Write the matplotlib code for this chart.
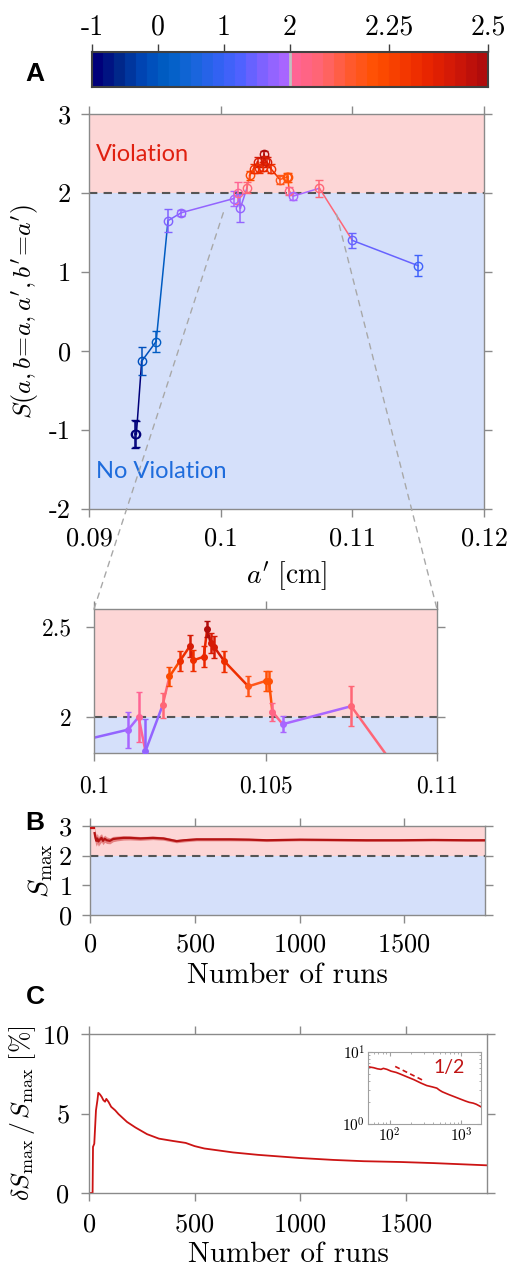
import numpy as np
import matplotlib
matplotlib.use("Agg")
import matplotlib.pyplot as plt
from matplotlib.colors import LinearSegmentedColormap, ListedColormap, TwoSlopeNorm
from matplotlib.patches import ConnectionPatch
from matplotlib.ticker import NullFormatter

plt.rcParams["font.family"] = "cmr10"
plt.rcParams["mathtext.fontset"] = "cm"
plt.rcParams["axes.unicode_minus"] = False
plt.rcParams["axes.formatter.use_mathtext"] = True

# ── Daten: Panel A (S gegen a') ──────────────────────────────────────────────
a_prime = [0.0935, 0.0936, 0.0940, 0.0951, 0.0960, 0.0970, 0.1010, 0.1013,
           0.1015, 0.1020, 0.1022, 0.1025, 0.1028, 0.1029, 0.1032, 0.1033,
           0.1034, 0.1035, 0.1038, 0.1045, 0.1050, 0.1051, 0.1052, 0.1055,
           0.1075, 0.1100, 0.1150]
s_val = [-1.05, -1.05, -0.13, 0.12, 1.65, 1.75, 1.93, 2.00,
         1.81, 2.065, 2.225, 2.31, 2.395, 2.315, 2.335, 2.49,
         2.41, 2.39, 2.31, 2.17, 2.20, 2.20, 2.03, 1.96,
         2.06, 1.40, 1.08]
s_err = [0.18, 0.17, 0.18, 0.13, 0.145, 0.04, 0.10, 0.14,
         0.18, 0.07, 0.055, 0.055, 0.06, 0.057, 0.058, 0.043,
         0.055, 0.06, 0.058, 0.055, 0.055, 0.055, 0.05, 0.045,
         0.11, 0.10, 0.135]

# ── Daten: Panel B (S_max gegen Anzahl Runs) ─────────────────────────────────
b_first_runs = [1, 20]
b_first_val = [2.92, 2.92]
b_runs = [22, 26, 30, 35, 40, 48, 55, 62, 70, 80, 95, 110, 130, 160, 190,
          240, 300, 350, 413, 450, 509, 600, 668, 760, 843, 1002, 1161,
          1320, 1479, 1638, 1800, 1885]
b_mean = [2.76, 2.60, 2.50, 2.58, 2.48, 2.55, 2.60, 2.50, 2.57, 2.52, 2.50,
          2.56, 2.58, 2.60, 2.60, 2.58, 2.60, 2.58, 2.49, 2.52, 2.55, 2.55,
          2.55, 2.54, 2.52, 2.54, 2.53, 2.52, 2.52, 2.53, 2.52, 2.52]
b_err = [0.20, 0.20, 0.18, 0.17, 0.16, 0.15, 0.14, 0.13, 0.12, 0.11, 0.10,
         0.09, 0.08, 0.075, 0.07, 0.065, 0.06, 0.06, 0.055, 0.055, 0.05,
         0.05, 0.05, 0.045, 0.045, 0.04, 0.04, 0.04, 0.035, 0.035, 0.035,
         0.035]

# ── Daten: Panel C (relativer Fehler in %) ───────────────────────────────────
c_runs = [1, 17, 19, 25, 33, 40, 44, 52, 60, 68, 76, 82, 92, 105, 124, 140,
          180, 220, 275, 331, 394, 458, 500, 546, 683, 800, 1000, 1158, 1300,
          1475, 1633, 1886]
c_rel = [0, 0, 2.9, 3.1, 5.2, 5.84, 6.3, 6.2, 6.05, 5.84, 5.74, 5.92, 5.74,
         5.42, 5.2, 4.96, 4.47, 4.12, 3.7, 3.42, 3.28, 3.15, 2.95, 2.8, 2.55,
         2.4, 2.2, 2.08, 2.0, 1.95, 1.88, 1.74]
ref_runs = [120, 300]
ref_rel = [6.3, 4.0]

cbar_ticks = [-1, 0, 1, 2, 2.25, 2.5]
cbar_labels = ["-1", "0", "1", "2", "2.25", "2.5"]

# ── Farbskala: blau (S<2) und rot (S>=2) ─────────────────────────────────────
blau = LinearSegmentedColormap.from_list(
    "blau", ["#00007A", "#002A8C", "#0048B8", "#0060C4", "#1466D8",
             "#2E62F0", "#4A62FF", "#7C62FF", "#A866FF"])
rot = LinearSegmentedColormap.from_list(
    "rot", ["#FF6494", "#FF6670", "#FF5A30", "#FF5000", "#F53A00",
            "#E82400", "#D01808", "#B00C0C"])
K = 18
cmap = ListedColormap(np.vstack([blau(np.linspace(0, 1, K)),
                                 rot(np.linspace(0, 1, K))]))
norm = TwoSlopeNorm(vmin=-1, vcenter=2, vmax=2.5)

ROSA = "#FDD6D6"
HELLBLAU = "#D5E0FA"
SPINE = "#8a8a8a"

W, H = 513, 1264
fig = plt.figure(figsize=(W / 100, H / 100), dpi=100)


def box(l, t, r, b):
    return [l / W, 1 - b / H, (r - l) / W, (b - t) / H]


def matlab_stil(ax, ls=19, pad=4):
    for sp in ax.spines.values():
        sp.set_color(SPINE)
        sp.set_linewidth(1.0)
    ax.tick_params(direction="out", top=True, right=True, length=6,
                   width=1.0, color=SPINE, labelsize=ls, pad=pad)


def hintergrund(ax):
    ax.axhspan(2, 100, color=ROSA, zorder=0, lw=0)
    ax.axhspan(-100, 2, color=HELLBLAU, zorder=0, lw=0)
    ax.axhline(2, color="#555555", ls=(0, (4, 3)), lw=1.5, zorder=1)


def daten_zeichnen(ax, offen, ms, lw, cs):
    for i in range(len(a_prime) - 1):
        ax.plot(a_prime[i:i + 2], s_val[i:i + 2],
                color=cmap(norm(s_val[i])), lw=lw, zorder=2)
    for xi, yi, ei in zip(a_prime, s_val, s_err):
        c = cmap(norm(yi))
        ax.errorbar(xi, yi, yerr=ei, fmt="o", ms=ms,
                    mfc="none" if offen else c, mec=c, ecolor=c,
                    elinewidth=lw, capsize=cs, capthick=lw, mew=1.0, zorder=3)


# ── Farbbalken ───────────────────────────────────────────────────────────────
cax = fig.add_axes(box(92, 52, 488, 87))
cax.imshow(np.linspace(0, 1, 720)[None, :], cmap=cmap, aspect="auto",
           extent=[0, 1, 0, 1])
cax.axvline(0.5, color="#C0C0C0", lw=2)
cax.set_xlim(0, 1)
cax.set_yticks([])
cax.xaxis.tick_top()
cax.set_xticks([norm(v) for v in cbar_ticks])
cax.set_xticklabels(cbar_labels)
cax.tick_params(direction="out", length=6, width=1.0, color="#404040",
                labelsize=20, pad=2)
for sp in cax.spines.values():
    sp.set_color("#404040")
    sp.set_linewidth(1.5)

# ── Panel A ──────────────────────────────────────────────────────────────────
axA = fig.add_axes(box(89, 114, 484, 509))
hintergrund(axA)
daten_zeichnen(axA, offen=True, ms=6, lw=1.1, cs=3)
axA.set_xlim(0.09, 0.12)
axA.set_ylim(-2, 3)
axA.set_xticks([0.09, 0.1, 0.11, 0.12])
axA.set_xticklabels(["0.09", "0.1", "0.11", "0.12"])
axA.set_yticks([-2, -1, 0, 1, 2, 3])
axA.set_yticklabels(["-2", "-1", "0", "1", "2", "3"])
matlab_stil(axA, pad=7)
axA.set_xlabel(r"$a'\ [\mathrm{cm}]$", fontsize=20, labelpad=6)
axA.set_ylabel(r"$S(a,b\!=\!a,a',b'\!=\!a')$", fontsize=18.5, labelpad=6)
axA.text(0.0905, 2.49, "Violation", color="#E02010", fontsize=17,
         family="Lato", va="center", ha="left")
axA.text(0.0905, -1.52, "No Violation", color="#1E6CDC", fontsize=17,
         family="Lato", va="center", ha="left")

# ── Vergrößerung ─────────────────────────────────────────────────────────────
axZ = fig.add_axes(box(94, 609, 437, 753))
hintergrund(axZ)
daten_zeichnen(axZ, offen=False, ms=4, lw=1.8, cs=2.5)
axZ.set_xlim(0.1, 0.11)
axZ.set_ylim(1.8, 2.6)
axZ.set_xticks([0.1, 0.105, 0.11])
axZ.set_xticklabels(["0.1", "0.105", "0.11"])
axZ.set_yticks([2, 2.5])
axZ.set_yticklabels(["2", "2.5"])
matlab_stil(axZ, ls=17, pad=10)

for xyA, xyB in [((0.1002, 1.75), (0, 1)), ((0.1088, 1.73), (1, 1))]:
    con = ConnectionPatch(xyA=xyA, coordsA=axA.transData, xyB=xyB,
                          coordsB=axZ.transAxes, color="#A8A8A8", lw=1.0,
                          ls=(0, (4, 4)), zorder=5)
    fig.add_artist(con)

# ── Panel B ──────────────────────────────────────────────────────────────────
axB = fig.add_axes(box(90, 826, 485, 915))
hintergrund(axB)
bm = np.array(b_mean)
be = np.array(b_err)
axB.fill_between(b_runs, bm - be, bm + be, color="#C81E1E", alpha=0.45,
                 lw=0, zorder=2)
axB.plot(b_runs, b_mean, color="#B41414", lw=1.6, zorder=3)
axB.plot(b_first_runs, b_first_val, color="#C81414", lw=1.6, zorder=3)
axB.set_xlim(0, 1885)
axB.set_ylim(0, 3)
axB.set_xticks([0, 500, 1000, 1500])
axB.set_yticks([0, 1, 2, 3])
matlab_stil(axB, pad=7)
axB.set_xlabel("Number of runs", fontsize=21, labelpad=4)
axB.set_ylabel(r"$S_{\max}$", fontsize=20, labelpad=2)

# ── Panel C ──────────────────────────────────────────────────────────────────
axC = fig.add_axes(box(89, 1034, 487, 1193))
axC.plot(c_runs, c_rel, color="#CC1414", lw=1.3)
axC.set_xlim(0, 1885)
axC.set_ylim(0, 10)
axC.set_xticks([0, 500, 1000, 1500])
axC.set_yticks([0, 5, 10])
matlab_stil(axC, pad=8)
axC.set_xlabel("Number of runs", fontsize=21, labelpad=4)
axC.set_ylabel(r"$\delta S_{\max}\,/\,S_{\max}\ [\%]$", fontsize=18.5,
               labelpad=3)

axCi = fig.add_axes(box(368, 1052, 481, 1124))
axCi.loglog(c_runs[2:], c_rel[2:], color="#CC1414", lw=1.2)
axCi.loglog(ref_runs, ref_rel, color="#CC1414", lw=1.2, ls=(0, (3, 2)))
axCi.set_xlim(50, 1900)
axCi.set_ylim(1, 10)
axCi.xaxis.set_minor_formatter(NullFormatter())
axCi.yaxis.set_minor_formatter(NullFormatter())
for sp in axCi.spines.values():
    sp.set_color("#A0A0A0")
    sp.set_linewidth(0.8)
axCi.tick_params(which="both", direction="in", top=True, right=True,
                 color="#A0A0A0", labelsize=11, pad=2)
axCi.tick_params(which="major", length=3)
axCi.tick_params(which="minor", length=1.5)
axCi.text(0.72, 0.78, "1/2", transform=axCi.transAxes, color="#C01414",
          fontsize=14, family="Lato", ha="center", va="center")

# ── Panel-Buchstaben ─────────────────────────────────────────────────────────
for buchstabe, (px, py) in {"A": (35, 74), "B": (35, 823),
                            "C": (35, 997)}.items():
    fig.text(px / W, 1 - py / H, buchstabe, fontsize=19, fontweight="bold",
             family="Liberation Sans", ha="center", va="center")

fig.savefig("out.png", dpi=100)
